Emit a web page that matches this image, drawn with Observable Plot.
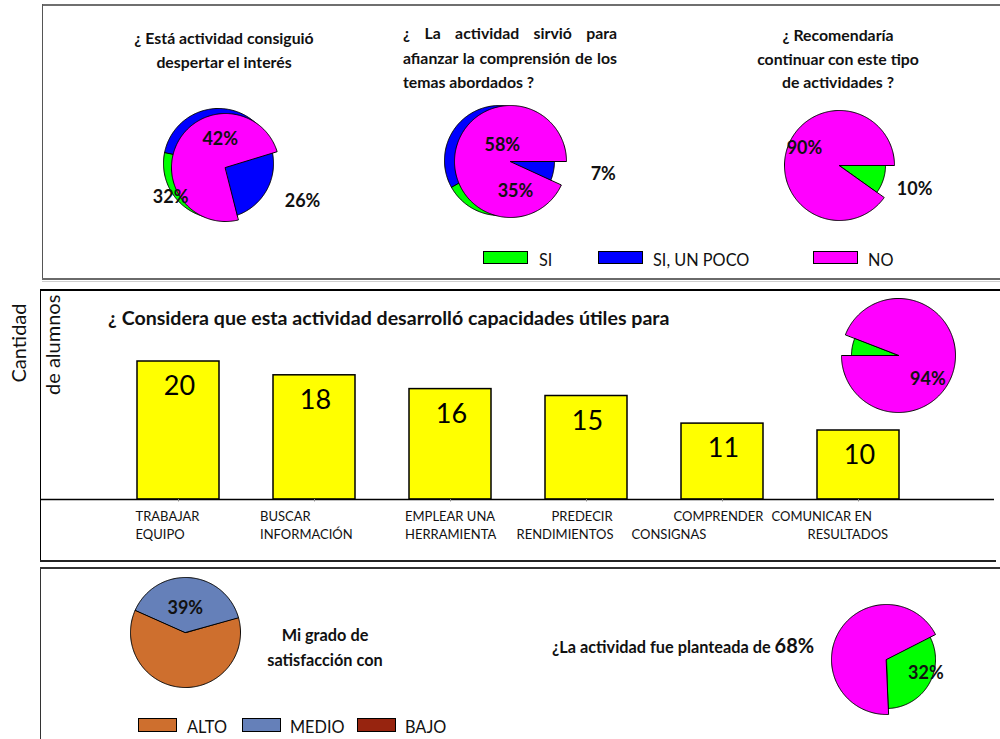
<!DOCTYPE html>
<html lang="es">
<head>
<meta charset="utf-8">
<script src="https://cdn.jsdelivr.net/npm/d3@7"></script>
<script src="https://cdn.jsdelivr.net/npm/@observablehq/plot@0.6"></script>
<style>
  html, body { margin: 0; padding: 0; background: #fff; overflow: hidden; }
  #page { position: relative; width: 1000px; height: 739px; overflow: hidden; font-family: Lato, "Open Sans", sans-serif; color: #111; }
  .ln { position: absolute; }
  .ttl { position: absolute; font-weight: 700; font-size: 15.8px; line-height: 24px; text-align: center; white-space: nowrap; }
  .leg { position: absolute; font-size: 16.3px; line-height: 18px; white-space: nowrap; }
  .sw { position: absolute; box-sizing: border-box; border: 1px solid #000; }
  .plotbox { position: absolute; }
  .plotbox svg { overflow: visible; }
</style>
</head>
<body>
<div id="page"></div>
<script>
// ---------------- data ----------------
const respuestas = ["SI", "SI, UN POCO", "NO"];
const interesValores = [32, 26, 42];
const comprensionValores = [35, 7, 58];
const recomendariaRespuestas = ["SI", "NO"];
const recomendariaValores = [10, 90];

const capacidades = ["TRABAJAR EQUIPO", "BUSCAR INFORMACIÓN", "EMPLEAR UNA HERRAMIENTA", "PREDECIR RENDIMIENTOS", "COMPRENDER CONSIGNAS", "COMUNICAR EN RESULTADOS"];
const capacidadesLinea1 = ["TRABAJAR", "BUSCAR", "EMPLEAR UNA", "PREDECIR", "COMPRENDER", "COMUNICAR EN"];
const capacidadesLinea2 = ["EQUIPO", "INFORMACIÓN", "HERRAMIENTA", "RENDIMIENTOS", "CONSIGNAS", "RESULTADOS"];
const alumnos = [20, 18, 16, 15, 11, 10];

const utilesRespuestas = ["SI", "NO"];
const utilesValores = [6, 94];

const satisfaccionNiveles = ["ALTO", "MEDIO", "BAJO"];
const satisfaccionValores = [61, 39, 0];

const planteadaRespuestas = ["SI", "NO"];
const planteadaValores = [32, 68];

// ---------------- styles ----------------
const C_SI = "#00FF00", C_POCO = "#0000FF", C_NO = "#FF00FF";
const C_ALTO = "#CE6F2E", C_MEDIO = "#6580B9", C_BAJO = "#97240F";
const DEG = Math.PI / 180;
const FONT = "Lato, 'Open Sans', sans-serif";
const page = document.getElementById("page");

function el(cls, css, html) {
  const d = document.createElement("div");
  if (cls) d.className = cls;
  Object.assign(d.style, css);
  if (html != null) d.innerHTML = html;
  page.appendChild(d);
  return d;
}
const px = v => v + "px";

// ---------------- panel frames ----------------
function hline(x, y, w, h, c) { el("ln", {left: px(x), top: px(y), width: px(w), height: px(h), background: c}); }
hline(42, 4, 958, 2, "#6f6f6f");
hline(42, 4, 1, 276, "#555");
hline(42, 278, 958, 1.5, "#6a6a6a");
hline(42, 280.5, 958, 1, "#cfcfcf");
hline(40, 289, 960, 1.5, "#000");
hline(40, 289, 1.3, 272, "#000");
hline(40, 560, 956, 1.5, "#222");
hline(40, 567, 960, 1.5, "#333");
hline(40, 567, 1.2, 172, "#333");

// ---------------- titles ----------------
el("ttl", {left: "124px", top: "26px", width: "200px"}, "¿ Está actividad consiguió<br>despertar el interés");
const t2 = el("ttl", {left: "403px", top: "21px", width: "214px", textAlign: "left", lineHeight: "24.5px"});
t2.innerHTML =
  '<div style="text-align:justify;text-align-last:justify;white-space:nowrap">¿ La actividad sirvió para</div>' +
  '<div style="text-align:justify;text-align-last:justify;white-space:nowrap">afianzar la comprensión de los</div>' +
  '<div>temas abordados ?</div>';
el("ttl", {left: "738px", top: "23px", width: "200px", lineHeight: "23.5px"}, "¿ Recomendaría<br>continuar con este tipo<br>de actividades ?");

el("ttl", {left: "108px", top: "306px", fontSize: "19.6px", lineHeight: "24px", textAlign: "left"}, "¿ Considera que esta actividad desarrolló capacidades útiles para");
el("ttl", {left: "225px", top: "622px", width: "200px", lineHeight: "25px", fontSize: "16.3px"}, "Mi grado de<br>satisfacción con");
el("ttl", {left: "552px", top: "632px", textAlign: "left", lineHeight: "26px", fontSize: "16.3px"},
  `¿La actividad fue planteada de <span style="font-size:20px">${planteadaValores[1]}%</span>`);

// axis title (rotated)
el("", {position: "absolute", left: "-42px", top: "331px", width: "120px", height: "24px", lineHeight: "24px",
        textAlign: "center", fontSize: "20px", transform: "rotate(-90deg)", whiteSpace: "nowrap"}, "Cantidad");
const clip = el("", {position: "absolute", left: "40px", top: "290px", width: "40px", height: "120px", overflow: "hidden"});
const inner = document.createElement("div");
Object.assign(inner.style, {position: "absolute", left: "12px", top: "93px", width: "150px", height: "24px", lineHeight: "24px",
  fontSize: "20px", transformOrigin: "0 50%", transform: "rotate(-90deg)", whiteSpace: "nowrap"});
inner.textContent = "de alumnos";
clip.appendChild(inner);

// ---------------- legends ----------------
const legTop = [
  {sw: 483, tx: 539, color: C_SI},
  {sw: 598, tx: 653, color: C_POCO},
  {sw: 813, tx: 868, color: C_NO}
];
respuestas.forEach((r, i) => {
  const s = legTop[i];
  el("sw", {left: px(s.sw), top: "251px", width: "45px", height: "13px", background: s.color});
  el("leg", {left: px(s.tx), top: "251px"}, r);
});
const legBot = [
  {sw: 138, tx: 187, color: C_ALTO},
  {sw: 242, tx: 290, color: C_MEDIO},
  {sw: 357, tx: 405, color: C_BAJO}
];
satisfaccionNiveles.forEach((r, i) => {
  const s = legBot[i];
  el("sw", {left: px(s.sw), top: "718px", width: "39px", height: "14px", background: s.color});
  el("leg", {left: px(s.tx), top: "718px"}, r);
});

// ---------------- pies ----------------
function slicePolygon(a0, a1, r, ox, oy, id, color) {
  const n = Math.max(2, Math.ceil(Math.abs(a1 - a0) / DEG));
  const pts = [{id, color, x: ox, y: oy}];
  for (let i = 0; i <= n; i++) {
    const a = a0 + (a1 - a0) * i / n;
    pts.push({id, color, x: ox + r * Math.sin(a), y: oy - r * Math.cos(a)});
  }
  return pts;
}

function drawPie({cx, cy, keys, values, start, layers, labels}) {
  const S = 200;
  const arcs = d3.pie().sort(null).startAngle(start * DEG).endAngle(start * DEG - 2 * Math.PI)(values);
  const byKey = new Map(keys.map((k, i) => [k, arcs[i]]));
  const marks = [];
  layers.forEach((layer, li) => {
    const pts = [];
    layer.slices.forEach(s => {
      let a0, a1;
      if (s.complementOf) {
        const a = byKey.get(s.complementOf);
        a0 = a.endAngle; a1 = a.startAngle - 2 * Math.PI;
      } else {
        const a = byKey.get(s.key);
        if (a.value === 0) return;
        a0 = a.startAngle; a1 = a.endAngle;
      }
      pts.push(...slicePolygon(a0, a1, s.r, layer.dx || 0, layer.dy || 0, li + "-" + s.key, s.color));
    });
    marks.push(Plot.line(pts, {x: "x", y: "y", z: "id", fill: "color", stroke: "#000", strokeWidth: 1, curve: "linear-closed"}));
  });
  const labelData = labels.map(l => {
    const a = byKey.get(l.key);
    const mid = (a.startAngle + a.endAngle) / 2;
    return {x: l.r * Math.sin(mid) + l.dx, y: -l.r * Math.cos(mid) + l.dy, text: `${a.value}%`};
  });
  marks.push(Plot.text(labelData, {x: "x", y: "y", text: "text", fontSize: 18, fontWeight: "bold", fill: "#111"}));
  const svg = Plot.plot({
    width: S, height: S, margin: 0,
    x: {domain: [-S / 2, S / 2], range: [0, S], axis: null},
    y: {domain: [-S / 2, S / 2], range: [0, S], axis: null},
    color: {type: "identity"},
    style: {background: "transparent", overflow: "visible", fontFamily: FONT},
    marks
  });
  const box = el("plotbox", {left: px(cx - S / 2), top: px(cy - S / 2), width: px(S), height: px(S)});
  box.appendChild(svg);
}

// 1: interés
drawPie({
  cx: 225, cy: 167, keys: respuestas, values: interesValores, start: 281.8,
  layers: [
    {dx: -7, dy: -4, slices: [
      {key: "SI", r: 55, color: C_SI}, {key: "SI, UN POCO", r: 55, color: C_POCO}, {key: "NO", r: 55, color: C_POCO}]},
    {slices: [{key: "NO", complementOf: "SI, UN POCO", r: 54, color: C_NO}]}
  ],
  labels: [
    {key: "NO", r: 28, dx: -4, dy: 0},
    {key: "SI", r: 60, dx: -13, dy: -13},
    {key: "SI, UN POCO", r: 83, dx: 5, dy: -8}
  ]
});
// 2: comprensión
drawPie({
  cx: 510, cy: 161, keys: respuestas, values: comprensionValores, start: 241.2,
  layers: [
    {dx: -11, dy: -1, slices: [
      {key: "SI", r: 55, color: C_SI}, {key: "SI, UN POCO", r: 55, color: C_POCO}, {key: "NO", r: 55, color: C_POCO}]},
    {slices: [{key: "NO", complementOf: "SI, UN POCO", r: 56, color: C_NO}]}
  ],
  labels: [
    {key: "NO", r: 17, dx: -4, dy: 0},
    {key: "SI", r: 30, dx: 4, dy: 0},
    {key: "SI, UN POCO", r: 94, dx: 1, dy: -7.5}
  ]
});
// 3: recomendaría
drawPie({
  cx: 839, cy: 165, keys: recomendariaRespuestas, values: recomendariaValores, start: 126,
  layers: [{slices: [{key: "SI", r: 46, color: C_SI}, {key: "NO", r: 55, color: C_NO}]}],
  labels: [{key: "NO", r: 40, dx: 3, dy: -5}, {key: "SI", r: 78, dx: 1, dy: 0}]
});
// capacidades útiles
drawPie({
  cx: 898, cy: 355, keys: utilesRespuestas, values: utilesValores, start: 291.6,
  layers: [{slices: [{key: "SI", r: 47, color: C_SI}, {key: "NO", r: 57, color: C_NO}]}],
  labels: [{key: "NO", r: 37, dx: -7, dy: 17}]
});
// satisfacción
drawPie({
  cx: 185, cy: 632, keys: satisfaccionNiveles, values: satisfaccionValores, start: 294.1,
  layers: [{slices: [{key: "ALTO", r: 55, color: C_ALTO}, {key: "MEDIO", r: 55, color: C_MEDIO}, {key: "BAJO", r: 55, color: C_BAJO}]}],
  labels: [{key: "MEDIO", r: 24, dx: -2, dy: 0}]
});
// planteada
drawPie({
  cx: 886, cy: 659, keys: planteadaRespuestas, values: planteadaValores, start: 178.2,
  layers: [{slices: [{key: "SI", r: 49, color: C_SI}, {key: "NO", r: 55, color: C_NO}]}],
  labels: [{key: "SI", r: 40, dx: 5, dy: -7}]
});

// ---------------- bar chart ----------------
const barData = capacidades.map((c, i) => ({cat: c, n: alumnos[i], l1: capacidadesLinea1[i], l2: capacidadesLinea2[i]}));
const line1Dx = [-43, -54.5, -45.5, -35, -49, -87];
const line2Dx = [-43, -54.5, -45.5, -70, -91, -51];
const tickMarks = [];
barData.forEach((d, i) => {
  tickMarks.push(Plot.text([d], {x: "cat", y: () => 0, text: "l1", textAnchor: "start", dx: line1Dx[i], dy: 17, fontSize: 13, fill: "#111"}));
  tickMarks.push(Plot.text([d], {x: "cat", y: () => 0, text: "l2", textAnchor: "start", dx: line2Dx[i], dy: 35, fontSize: 13, fill: "#111"}));
});
const bars = Plot.plot({
  width: 1000, height: 270,
  marginLeft: 109, marginRight: 74, marginTop: 3, marginBottom: 60,
  x: {domain: capacidades, paddingInner: 0.4, paddingOuter: 0.2, axis: null},
  y: {domain: [0, 30], axis: null},
  style: {background: "transparent", overflow: "visible", fontFamily: FONT},
  marks: [
    Plot.barY(barData, {x: "cat", y: "n", fill: "#FFFF00", stroke: "#000", strokeWidth: 1.5}),
    Plot.ruleY([0], {insetLeft: -68, insetRight: -68, stroke: "#000", strokeWidth: 1.3}),
    Plot.ruleX(barData, {x: "cat", y1: 0, y2: -0.35, stroke: "#888"}),
    Plot.text(barData, {x: "cat", y: "n", text: d => String(d.n), dy: 25, dx: 1, fontSize: 27, fill: "#000"}),
    ...tickMarks
  ]
});
const barBox = el("plotbox", {left: "0px", top: "289px", width: "1000px", height: "270px"});
barBox.appendChild(bars);
</script>
</body>
</html>
